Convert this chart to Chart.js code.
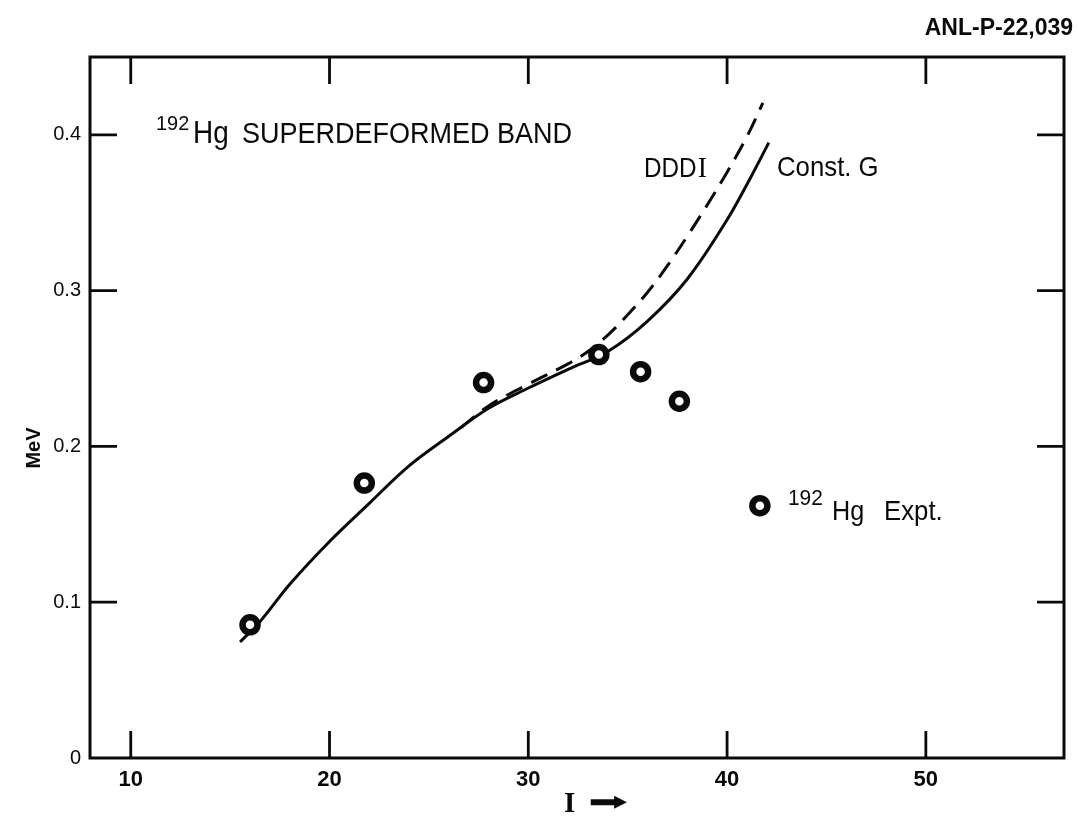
<!DOCTYPE html>
<html>
<head>
<meta charset="utf-8">
<script src="https://cdn.jsdelivr.net/npm/chart.js@4/dist/chart.umd.min.js"></script>
<style>
  html, body { margin: 0; padding: 0; background: #ffffff; }
  #wrap { width: 1078px; height: 821px; }
</style>
</head>
<body>
<div id="wrap"><canvas id="c" width="1078" height="821"></canvas></div>
<script>
// ---- data ----
const xTicks = [10, 20, 30, 40, 50];
const yTicks = [0, 0.1, 0.2, 0.3, 0.4];
const yTickLabels = ["0", "0.1", "0.2", "0.3", "0.4"];

// experimental points (spin I, energy MeV)
const exptI = [16.0, 21.75, 27.75, 33.55, 35.65, 37.6];
const exptE = [0.0855, 0.1765, 0.241, 0.259, 0.248, 0.229];

// Const. G calculation (solid)
const constGI = [15.5, 16.5, 18.0, 20.0, 22.0, 24.0, 26.0, 28.0, 30.0, 32.0, 34.0, 36.0, 38.0, 40.0, 41.2, 42.1];
const constGE = [0.0745, 0.0875, 0.1115, 0.139, 0.1635, 0.1875, 0.2065, 0.2245, 0.2375, 0.2495, 0.2610, 0.2805, 0.3075, 0.3455, 0.3730, 0.3950];

// DDDI calculation (dashed) - branches from the solid curve near I = 27
const dddiI = [26.6, 28.0, 30.0, 32.0, 33.0, 34.0, 35.0, 36.0, 37.0, 38.0, 39.0, 40.0, 41.0, 41.8];
const dddiE = [0.2120, 0.2260, 0.2400, 0.2530, 0.2610, 0.2715, 0.2845, 0.2990, 0.3160, 0.3350, 0.3550, 0.3760, 0.3990, 0.4205];

// legend key marker
const keyI = [41.65];
const keyE = [0.162];

const toXY = (xs, ys) => xs.map((x, i) => ({ x: x, y: ys[i] }));

const INK = '#0a0a0a';
const SANS = '"Liberation Sans", Arial, Helvetica, sans-serif';
const SERIF = '"Liberation Serif", "Times New Roman", serif';

function txt(ctx, s, x, y, font, sx, align) {
  ctx.save();
  ctx.font = font;
  ctx.textAlign = align || 'left';
  ctx.translate(x, y);
  ctx.scale(sx || 1, 1);
  ctx.fillText(s, 0, 0);
  const w = ctx.measureText(s).width * (sx || 1);
  ctx.restore();
  return w;
}

const framePlugin = {
  id: 'frame',
  afterDraw(chart) {
    const ctx = chart.ctx;
    const a = chart.chartArea;
    const xs = chart.scales.x, ys = chart.scales.y;
    ctx.save();
    ctx.strokeStyle = INK;
    ctx.lineWidth = 3;
    ctx.strokeRect(a.left, a.top, a.right - a.left, a.bottom - a.top);
    const L = 27;
    ctx.lineWidth = 2.8;
    ctx.beginPath();
    xTicks.forEach(v => {
      const px = xs.getPixelForValue(v);
      ctx.moveTo(px, a.bottom); ctx.lineTo(px, a.bottom - L);
      ctx.moveTo(px, a.top); ctx.lineTo(px, a.top + L);
    });
    yTicks.forEach(v => {
      if (v === 0) return;
      const py = ys.getPixelForValue(v);
      ctx.moveTo(a.left, py); ctx.lineTo(a.left + L, py);
      ctx.moveTo(a.right, py); ctx.lineTo(a.right - L, py);
    });
    ctx.stroke();

    ctx.fillStyle = INK;
    ctx.textBaseline = 'alphabetic';

    // top-right id
    txt(ctx, 'ANL-P-22,039', 1073, 35, 'bold 23px ' + SANS, 1, 'right');

    // panel title
    txt(ctx, '192', 156, 130, '21px ' + SANS, 0.95);
    txt(ctx, 'Hg', 193, 143, '31px ' + SANS, 0.9);
    txt(ctx, 'SUPERDEFORMED BAND', 242, 143, '30px ' + SANS, 0.9);

    // curve labels
    const dw = txt(ctx, 'DDD', 644, 177, '27px ' + SANS, 0.9);
    txt(ctx, 'I', 644 + dw + 1, 177, '29px ' + SERIF, 0.95);
    txt(ctx, 'Const. G', 777, 176, '28px ' + SANS, 0.92);

    // key text
    txt(ctx, '192', 788, 505, '22px ' + SANS, 0.95);
    txt(ctx, 'Hg', 832, 520, '28px ' + SANS, 0.9);
    txt(ctx, 'Expt.', 884, 520, '28px ' + SANS, 0.92);

    // axis titles
    ctx.save();
    ctx.translate(40, 448);
    ctx.rotate(-Math.PI / 2);
    ctx.textAlign = 'center';
    ctx.font = 'bold 20px "Liberation Sans Narrow", ' + SANS;
    ctx.fillText('MeV', 0, 0);
    ctx.restore();

    txt(ctx, 'I', 564, 812, 'bold 29px ' + SERIF, 1);
    txt(ctx, '\u27A1', 588, 810, 'bold 24px "DejaVu Sans", sans-serif', 2.0);
    ctx.restore();
  }
};

new Chart(document.getElementById('c'), {
  type: 'scatter',
  data: {
    datasets: [
      {
        label: '192Hg Expt.',
        data: toXY(exptI, exptE),
        showLine: false,
        pointStyle: 'circle',
        pointRadius: 7.5,
        pointBorderWidth: 6.5,
        pointBorderColor: INK,
        pointBackgroundColor: '#ffffff',
        order: 0
      },
      {
        label: 'key',
        data: toXY(keyI, keyE),
        showLine: false,
        pointStyle: 'circle',
        pointRadius: 7.5,
        pointBorderWidth: 6.5,
        pointBorderColor: INK,
        pointBackgroundColor: '#ffffff',
        order: 0
      },
      {
        label: 'Const. G',
        data: toXY(constGI, constGE),
        showLine: true,
        borderColor: INK,
        borderWidth: 3,
        pointRadius: 0,
        tension: 0.35,
        order: 2
      },
      {
        label: 'DDDI',
        data: toXY(dddiI, dddiE),
        showLine: true,
        borderColor: INK,
        borderWidth: 3,
        borderDash: [18, 10],
        pointRadius: 0,
        tension: 0.35,
        order: 1
      }
    ]
  },
  options: {
    responsive: false,
    animation: false,
    devicePixelRatio: 1,
    layout: { padding: { top: 57, right: -4, left: 0, bottom: 0 } },
    plugins: { legend: { display: false }, tooltip: { enabled: false }, title: { display: false } },
    scales: {
      x: {
        type: 'linear',
        min: 7.95, max: 56.95,
        afterBuildTicks: s => { s.ticks = xTicks.map(v => ({ value: v })); },
        afterFit: s => { s.height = 63; },
        grid: { display: false, drawTicks: false },
        border: { display: false },
        ticks: {
          color: INK,
          padding: 9,
          maxRotation: 0,
          font: { family: '"Liberation Sans Narrow", "Liberation Sans", Arial, sans-serif', size: 22, weight: 'bold' },
          callback: v => String(v)
        }
      },
      y: {
        type: 'linear',
        min: 0, max: 0.45,
        afterBuildTicks: s => { s.ticks = yTicks.map(v => ({ value: v })); },
        afterFit: s => { s.width = 90; },
        grid: { display: false, drawTicks: false },
        border: { display: false },
        ticks: {
          color: INK,
          padding: 9,
          font: { family: '"Liberation Sans", Arial, sans-serif', size: 20 },
          callback: v => yTickLabels[yTicks.findIndex(t => Math.abs(t - v) < 1e-9)] ?? ''
        }
      }
    }
  },
  plugins: [framePlugin]
});
</script>
</body>
</html>
